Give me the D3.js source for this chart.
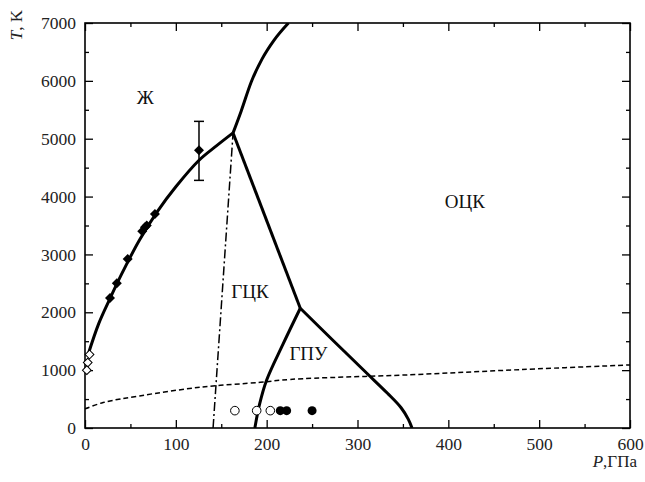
<!DOCTYPE html>
<html>
<head>
<meta charset="utf-8">
<script src="https://cdn.jsdelivr.net/npm/d3@7"></script>
<style>
  body { margin: 0; background: #fff; }
  text { font-family: "Liberation Serif", "DejaVu Serif", serif; }
</style>
</head>
<body>
<svg width="645" height="482"></svg>
<script>
var width = 645, height = 482;
var margin = {top: 23, right: 15, bottom: 54, left: 85};

// phase boundaries [P, T]
var meltLine = [[3,1250],[15,1800],[27,2220],[40,2650],[60,3250],[80,3750],[100,4170],[125,4620],[145,4880],[163,5100]];
var bccLiquid = [[163,5100],[172,5480],[183,5980],[195,6380],[208,6700],[224,7000]];
var fccBcc = [[163,5100],[237,2070]];
var hcpFcc = [[237,2070],[218,1450],[200,830],[192,400],[187,0]];
var hcpBcc = [[237,2070],[274,1500],[310,950],[333,600],[348,350],[356,150],[360,0]];
var dashDot = [[141,0],[163,5100]];
var dashed = [[0,330],[20,440],[60,555],[127,705],[193,790],[226,840],[358,920],[480,1010],[600,1090]];

// experimental points
var solidDiamonds = [[27.5,2245],[35,2500],[47,2920],[63,3400],[66,3470],[68,3500],[77,3700]];
var errDiamond = [[125.5,4800,4280,5300]];
var openDiamonds = [[5,1270],[3,1130],[2,1000]];
var openCircles = [[165,300],[189,300],[204,300]];
var filledCircles = [[215,300],[222,300],[250,300]];

var phaseLabels = [["Ж",57,5600],["ОЦК",396,3800],["ГЦК",161,2245],["ГПУ",225,1175]];

var xMajor = [0,100,200,300,400,500,600];
var yMajor = [0,1000,2000,3000,4000,5000,6000,7000];

var x = d3.scaleLinear().domain([0,600]).range([margin.left, width - margin.right]);
var y = d3.scaleLinear().domain([0,7000]).range([height - margin.bottom, margin.top]);

var svg = d3.select("svg");

var line = d3.line().x(d => x(d[0])).y(d => y(d[1]));
var smooth = d3.line().x(d => x(d[0])).y(d => y(d[1])).curve(d3.curveCatmullRom);
var mono = d3.line().x(d => x(d[0])).y(d => y(d[1])).curve(d3.curveMonotoneX);

// axes: ticks inside on all four sides
var xMinor = d3.range(50, 600, 100);
var yMinor = d3.range(500, 7000, 1000);

svg.append("g").attr("transform", `translate(0,${y(0)})`)
    .call(d3.axisBottom(x).tickValues(xMajor).tickSize(-8).tickPadding(10).tickFormat(d3.format("d")));
svg.append("g").attr("transform", `translate(0,${y(0)})`)
    .call(d3.axisBottom(x).tickValues(xMinor).tickSize(-4).tickFormat(""));
svg.append("g").attr("transform", `translate(0,${y(7000)})`)
    .call(d3.axisTop(x).tickValues(xMajor).tickSize(-8).tickFormat(""));
svg.append("g").attr("transform", `translate(0,${y(7000)})`)
    .call(d3.axisTop(x).tickValues(xMinor).tickSize(-4).tickFormat(""));

svg.append("g").attr("transform", `translate(${x(0)},0)`)
    .call(d3.axisLeft(y).tickValues(yMajor).tickSize(-8).tickPadding(9).tickFormat(d3.format("d")));
svg.append("g").attr("transform", `translate(${x(0)},0)`)
    .call(d3.axisLeft(y).tickValues(yMinor).tickSize(-4).tickFormat(""));
svg.append("g").attr("transform", `translate(${x(600)},0)`)
    .call(d3.axisRight(y).tickValues(yMajor).tickSize(-8).tickFormat(""));
svg.append("g").attr("transform", `translate(${x(600)},0)`)
    .call(d3.axisRight(y).tickValues(yMinor).tickSize(-4).tickFormat(""));

svg.selectAll("g").attr("font-family", "Liberation Serif");
svg.selectAll(".domain").remove();
svg.selectAll(".tick line").attr("stroke", "#000").attr("stroke-width", 1.3);
svg.selectAll(".tick text").attr("font-size", 17.5).attr("fill", "#222")
    .style("font-family", "'Liberation Serif', serif");

svg.append("rect")
    .attr("x", x(0)).attr("y", y(7000))
    .attr("width", x(600) - x(0)).attr("height", y(0) - y(7000))
    .attr("fill", "none").attr("stroke", "#000").attr("stroke-width", 1.6);

// clip for curves
svg.append("clipPath").attr("id", "plot").append("rect")
    .attr("x", x(0)).attr("y", y(7000))
    .attr("width", x(600) - x(0)).attr("height", y(0) - y(7000));
var plot = svg.append("g").attr("clip-path", "url(#plot)");

plot.append("path").datum(dashed).attr("d", smooth)
    .attr("fill", "none").attr("stroke", "#000").attr("stroke-width", 1.5)
    .attr("stroke-dasharray", "5,3");
plot.append("path").datum(dashDot).attr("d", line)
    .attr("fill", "none").attr("stroke", "#000").attr("stroke-width", 1.5)
    .attr("stroke-dasharray", "9,3,2,3");

[[meltLine, smooth], [bccLiquid, mono], [fccBcc, line], [hcpFcc, smooth], [hcpBcc, smooth]].forEach(function(c) {
    plot.append("path").datum(c[0]).attr("d", c[1])
        .attr("fill", "none").attr("stroke", "#000").attr("stroke-width", 3)
        .attr("stroke-linejoin", "round");
});

// error bar
errDiamond.forEach(function(d) {
    svg.append("line").attr("x1", x(d[0])).attr("x2", x(d[0]))
        .attr("y1", y(d[2])).attr("y2", y(d[3])).attr("stroke", "#000").attr("stroke-width", 1.5);
    [d[2], d[3]].forEach(function(v) {
        svg.append("line").attr("x1", x(d[0]) - 5).attr("x2", x(d[0]) + 5)
            .attr("y1", y(v)).attr("y2", y(v)).attr("stroke", "#000").attr("stroke-width", 1.5);
    });
});

// diamonds as squares rotated 45 degrees
var diamond = d3.symbol().type(d3.symbolSquare).size(50);
svg.selectAll(".sd").data(solidDiamonds.concat(errDiamond)).join("path")
    .attr("transform", d => `translate(${x(d[0])},${y(d[1])}) rotate(45)`)
    .attr("d", diamond).attr("fill", "#000");
svg.selectAll(".od").data(openDiamonds).join("path")
    .attr("transform", d => `translate(${x(d[0])},${y(d[1])}) rotate(45)`)
    .attr("d", d3.symbol().type(d3.symbolSquare).size(38))
    .attr("fill", "#fff").attr("stroke", "#000").attr("stroke-width", 1);

svg.selectAll(".oc").data(openCircles).join("circle")
    .attr("cx", d => x(d[0])).attr("cy", d => y(d[1])).attr("r", 4.3)
    .attr("fill", "#fff").attr("stroke", "#000").attr("stroke-width", 1);
svg.selectAll(".fc").data(filledCircles).join("circle")
    .attr("cx", d => x(d[0])).attr("cy", d => y(d[1])).attr("r", 4.5)
    .attr("fill", "#000");

// phase labels
svg.selectAll(".pl").data(phaseLabels).join("text")
    .attr("x", d => x(d[1])).attr("y", d => y(d[2]))
    .attr("font-size", 19).attr("fill", "#111")
    .text(d => d[0]);

// axis titles
var yt = svg.append("text")
    .attr("transform", "translate(22,25) rotate(-90)")
    .attr("text-anchor", "middle").attr("font-size", 17).attr("fill", "#222");
yt.append("tspan").attr("font-style", "italic").text("T");
yt.append("tspan").text(", K");

var xt = svg.append("text")
    .attr("x", 637).attr("y", 467).attr("text-anchor", "end")
    .attr("font-size", 17).attr("fill", "#222");
xt.append("tspan").attr("font-style", "italic").text("P");
xt.append("tspan").text(",ГПа");
</script>
</body>
</html>
